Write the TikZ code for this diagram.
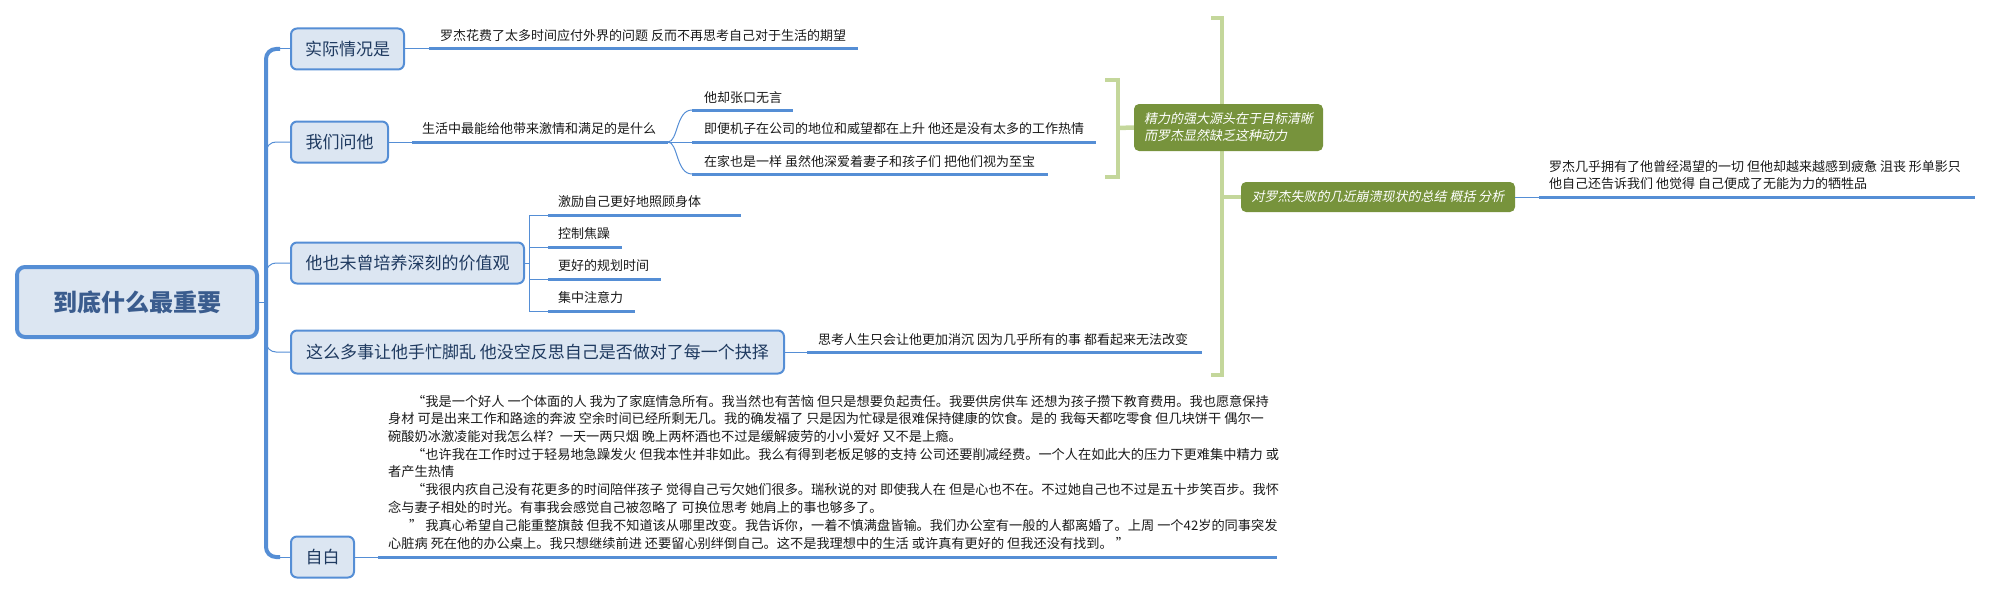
\documentclass[tikz,border=0pt]{standalone}
\usepackage{fontspec}
\setmainfont{Noto Sans CJK SC}
\newfontfamily\cjkit[FakeSlant=0.2]{Noto Sans CJK SC}
\definecolor{lineblue}{HTML}{558ED5}
\definecolor{boxfill}{HTML}{DCE6F2}
\definecolor{topictext}{HTML}{1F3A60}
\definecolor{roottext}{HTML}{3A5C8E}
\definecolor{sumgreen}{HTML}{77933C}
\definecolor{brkgreen}{HTML}{C4D79B}
\definecolor{leaftext}{HTML}{1A1A1A}
\tikzset{
  topic/.style={draw=lineblue, line width=2pt, fill=boxfill, rounded corners=6pt, inner sep=0pt, text=topictext, font=\fontsize{17}{20}\selectfont},
  rootbox/.style={topic, line width=4pt, rounded corners=8pt, text=roottext, font=\fontsize{24}{28}\selectfont\bfseries},
  leaf/.style={anchor=west, inner sep=0pt, text=leaftext, font=\fontsize{13}{15}\selectfont},
  para/.style={anchor=west, inner sep=0pt, text=leaftext, font=\fontsize{13.2}{15}\selectfont},
  uline/.style={draw=lineblue, line width=3pt},
  thinline/.style={draw=lineblue, line width=1pt},
  trunkline/.style={draw=lineblue, line width=4pt},
  summ/.style={fill=sumgreen, rounded corners=5pt, inner sep=0pt, text=white, font=\cjkit\fontsize{13}{17}\selectfont},
  brk/.style={draw=brkgreen, line width=4.5pt}
}
\begin{document}
\begin{tikzpicture}[x=1pt,y=-1pt]
\useasboundingbox (0,0) rectangle (1994,594);

% big summary bracket (drawn first, passes behind first summary box)
\draw[brk] (1211,18) -- (1222,18) -- (1222,375) -- (1211,375);
% small bracket
\draw[brk] (1105,80) -- (1118,80) -- (1118,177) -- (1105,177);

% root and topics
\node[rootbox, minimum width=240pt, minimum height=70pt] (root) at (137,302) {到底什么最重要};
\node[topic, minimum width=113pt, minimum height=41pt] (t1) at (347.5,49) {实际情况是};
\node[topic, minimum width=97pt, minimum height=41pt] (t2) at (339.5,142) {我们问他};
\node[topic, minimum width=233pt, minimum height=41pt] (t3) at (407.5,263) {他也未曾培养深刻的价值观};
\node[topic, minimum width=493pt, minimum height=43pt] (t4) at (537.5,352) {这么多事让他手忙脚乱 他没空反思自己是否做对了每一个抉择};
\node[topic, minimum width=63pt, minimum height=41pt] (t5) at (322.5,557) {自白};

% trunk
\coordinate (jt) at (266,302);
\coordinate (tt) at (280,49);
\coordinate (tb) at (280,557);
\draw[trunkline, rounded corners=10pt] (tt) -| (jt) |- (tb);
\draw[thinline] (root.east) -- (jt);
\draw[thinline] (tt) -- (t1.west);
\draw[thinline] (tb) -- (t5.west);
\draw[thinline, rounded corners=10pt] (jt) |- (t2.west);
\draw[thinline, rounded corners=10pt] (jt) |- (t3.west);
\draw[thinline, rounded corners=10pt] (jt) |- (t4.west);

% topic 1
\coordinate (u1a) at (429,49); \coordinate (u1b) at (858,49);
\draw[thinline] (t1.east) -- (u1a);
\draw[uline] (u1a) -- (u1b);
\node[leaf] (l1) at (440,36) {罗杰花费了太多时间应付外界的问题 反而不再思考自己对于生活的期望};

% topic 2
\coordinate (u2a) at (412,142); \coordinate (s2) at (668,142);
\draw[thinline] (t2.east) -- (u2a);
\draw[uline] (u2a) -- (s2);
\node[leaf] (l2) at (422,129) {生活中最能给他带来激情和满足的是什么};
\coordinate (c1a) at (692,110); \coordinate (c1b) at (793,110);
\coordinate (c2a) at (692,142); \coordinate (c2b) at (1096,142);
\coordinate (c3a) at (692,174); \coordinate (c3b) at (1048,174);
\draw[thinline] (s2) .. controls (678,142) and (676,110) .. (c1a);
\draw[thinline] (s2) -- (c2a);
\draw[thinline] (s2) .. controls (678,142) and (676,174) .. (c3a);
\draw[uline] (c1a) -- (c1b);
\draw[uline] (c2a) -- (c2b);
\draw[uline] (c3a) -- (c3b);
\node[leaf] (l21) at (704,98) {他却张口无言};
\node[leaf] (l22) at (704,129) {即便机子在公司的地位和威望都在上升 他还是没有太多的工作热情};
\node[leaf] (l23) at (704,162) {在家也是一样 虽然他深爱着妻子和孩子们 把他们视为至宝};

% summary 1
\node[summ, minimum width=189pt, minimum height=47pt, align=left] (g1) at (1228.5,127.5) {精力的强大源头在于目标清晰\\而罗杰显然缺乏这种动力};
\draw[brk] (1118,128) -- (g1.west);

% topic 3
\coordinate (s3) at (529,263);
\coordinate (v3t) at (529,215); \coordinate (v3b) at (529,311);
\draw[thinline] (t3.east) -- (s3);
\draw[thinline] (v3t) -- (v3b);
\coordinate (d1a) at (548,215); \coordinate (d1b) at (741,215);
\coordinate (d2a) at (548,247); \coordinate (d2b) at (622,247);
\coordinate (d3a) at (548,279); \coordinate (d3b) at (661,279);
\coordinate (d4a) at (548,311); \coordinate (d4b) at (635,311);
\draw[thinline] (v3t) -- (d1a);
\draw[thinline] (529,247) -- (d2a);
\draw[thinline] (529,279) -- (d3a);
\draw[thinline] (v3b) -- (d4a);
\draw[uline] (d1a) -- (d1b);
\draw[uline] (d2a) -- (d2b);
\draw[uline] (d3a) -- (d3b);
\draw[uline] (d4a) -- (d4b);
\node[leaf] (l31) at (558,202) {激励自己更好地照顾身体};
\node[leaf] (l32) at (558,234) {控制焦躁};
\node[leaf] (l33) at (558,266) {更好的规划时间};
\node[leaf] (l34) at (558,298) {集中注意力};

% topic 4
\coordinate (u4a) at (807,352); \coordinate (u4b) at (1202,352);
\draw[thinline] (t4.east) -- (u4a);
\draw[uline] (u4a) -- (u4b);
\node[leaf] (l4) at (818,340) {思考人生只会让他更加消沉 因为几乎所有的事 都看起来无法改变};

% topic 5
\coordinate (u5a) at (378,557); \coordinate (u5b) at (1277,557);
\draw[thinline] (t5.east) -- (u5a);
\draw[uline] (u5a) -- (u5b);
\node[para] (p1) at (412,401) {“我是一个好人 一个体面的人 我为了家庭情急所有。我当然也有苦恼 但只是想要负起责任。我要供房供车 还想为孩子攒下教育费用。我也愿意保持};
\node[para] (p2) at (388,418.75) {身材 可是出来工作和路途的奔波 空余时间已经所剩无几。我的确发福了 只是因为忙碌是很难保持健康的饮食。是的 我每天都吃零食 但几块饼干 偶尔一};
\node[para] (p3) at (388,436.5) {碗酸奶冰激凌能对我怎么样？一天一两只烟 晚上两杯酒也不过是缓解疲劳的小小爱好 又不是上瘾。};
\node[para] (p4) at (412,454.25) {“也许我在工作时过于轻易地急躁发火 但我本性并非如此。我么有得到老板足够的支持 公司还要削减经费。一个人在如此大的压力下更难集中精力 或};
\node[para] (p5) at (388,472) {者产生热情};
\node[para] (p6) at (412,489.75) {“我很内疚自己没有花更多的时间陪伴孩子 觉得自己亏欠她们很多。瑞秋说的对 即使我人在 但是心也不在。不过她自己也不过是五十步笑百步。我怀};
\node[para] (p7) at (388,507.5) {念与妻子相处的时光。有事我会感觉自己被忽略了 可换位思考 她肩上的事也够多了。};
\node[para] (p8) at (409,525.25) {” 我真心希望自己能重整旗鼓 但我不知道该从哪里改变。我告诉你，一着不慎满盘皆输。我们办公室有一般的人都离婚了。上周 一个42岁的同事突发};
\node[para] (p9) at (388,543) {心脏病 死在他的办公桌上。我只想继续前进 还要留心别绊倒自己。这不是我理想中的生活 或许真有更好的 但我还没有找到。 ”};

% summary 2
\node[summ, minimum width=274pt, minimum height=30pt] (g2) at (1378,197) {对罗杰失败的几近崩溃现状的总结 概括 分析};
\draw[brk] (1222,197) -- (g2.west);
\coordinate (ug2a) at (1539,197); \coordinate (ug2b) at (1975,197);
\draw[thinline] (g2.east) -- (ug2a);
\draw[uline] (ug2a) -- (ug2b);
\node[leaf] (lg1) at (1549,167) {罗杰几乎拥有了他曾经渴望的一切 但他却越来越感到疲惫 沮丧 形单影只};
\node[leaf] (lg2) at (1549,184) {他自己还告诉我们 他觉得 自己便成了无能为力的牺牲品};
\end{tikzpicture}
\end{document}
